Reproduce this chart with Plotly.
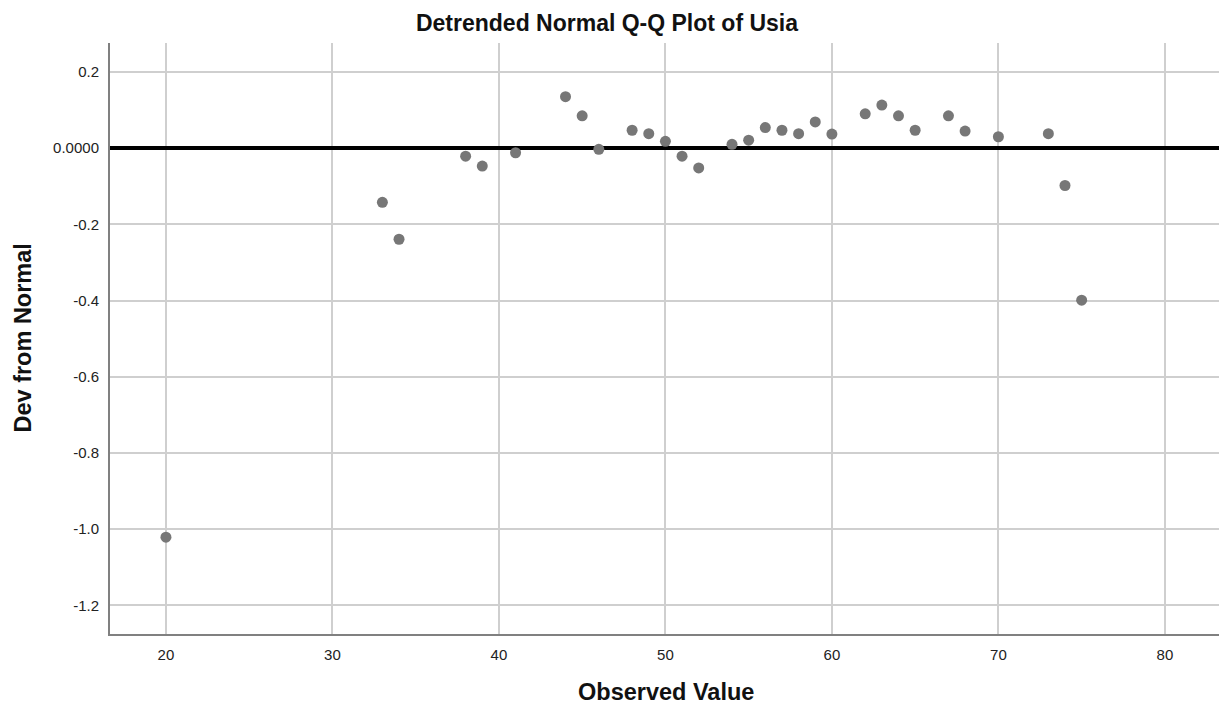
import plotly.graph_objects as go

# Observed values of Usia and their deviation from the normal expectation
observed_value = [20, 33, 34, 38, 39, 41, 44, 45, 46, 48, 49, 50, 51, 52, 54, 55,
                  56, 57, 58, 59, 60, 62, 63, 64, 65, 67, 68, 70, 73, 74, 75]
dev_from_normal = [-1.021, -0.142, -0.239, -0.021, -0.047, -0.012, 0.135, 0.085,
                   -0.003, 0.047, 0.038, 0.018, -0.021, -0.052, 0.010, 0.021,
                   0.054, 0.047, 0.038, 0.069, 0.037, 0.090, 0.113, 0.085, 0.047,
                   0.085, 0.045, 0.030, 0.038, -0.098, -0.399]

x_ticks = [20, 30, 40, 50, 60, 70, 80]
y_ticks = [0.2, 0.0, -0.2, -0.4, -0.6, -0.8, -1.0, -1.2]
y_tick_text = ["0.2", "0.0000", "-0.2", "-0.4", "-0.6", "-0.8", "-1.0", "-1.2"]

W, H = 1232, 710
ML, MR, MT, MB = 110, 13, 43, 76
FONT = "Arial, Liberation Sans, sans-serif"

fig = go.Figure()
fig.add_trace(go.Scatter(
    x=observed_value, y=dev_from_normal, mode="markers",
    marker=dict(size=11, color="#777777", line=dict(width=0)),
    hoverinfo="x+y", showlegend=False,
))

fig.update_layout(
    width=W, height=H,
    margin=dict(l=ML, r=MR, t=MT, b=MB, pad=0),
    paper_bgcolor="white", plot_bgcolor="white",
    font=dict(family=FONT, size=15, color="#222222"),
    title=dict(text="<b>Detrended Normal Q-Q Plot of Usia</b>",
               font=dict(family=FONT, size=23, color="#111111"),
               xref="container", x=607 / W, xanchor="center",
               yref="container", y=1 - 23 / H, yanchor="middle"),
    xaxis=dict(
        range=[16.64, 83.25], tickvals=x_ticks, ticks="", showgrid=True,
        gridcolor="#cfcfcf", gridwidth=1.5, zeroline=False,
        showline=True, linecolor="#808080", linewidth=2,
        tickfont=dict(family=FONT, size=15, color="#222222"),
        ticklabelstandoff=6,
    ),
    yaxis=dict(
        range=[-1.275, 0.276], tickvals=y_ticks, ticktext=y_tick_text, ticks="",
        showgrid=True, gridcolor="#cfcfcf", gridwidth=1.5,
        zeroline=True, zerolinecolor="#000000", zerolinewidth=4,
        showline=True, linecolor="#808080", linewidth=2,
        tickfont=dict(family=FONT, size=15, color="#222222"),
        ticklabelstandoff=6,
    ),
    annotations=[
        dict(text="<b>Observed Value</b>", xref="paper", yref="paper",
             x=(666 - ML) / (W - ML - MR), y=-(692 - (H - MB)) / (H - MT - MB),
             xanchor="center", yanchor="middle", showarrow=False,
             font=dict(family=FONT, size=23.5, color="#111111")),
        dict(text="<b>Dev from Normal</b>", xref="paper", yref="paper",
             x=-(ML - 22) / (W - ML - MR), y=0.5, textangle=-90,
             xanchor="center", yanchor="middle", showarrow=False,
             font=dict(family=FONT, size=23.5, color="#111111")),
    ],
)

fig.write_html("out.html")
